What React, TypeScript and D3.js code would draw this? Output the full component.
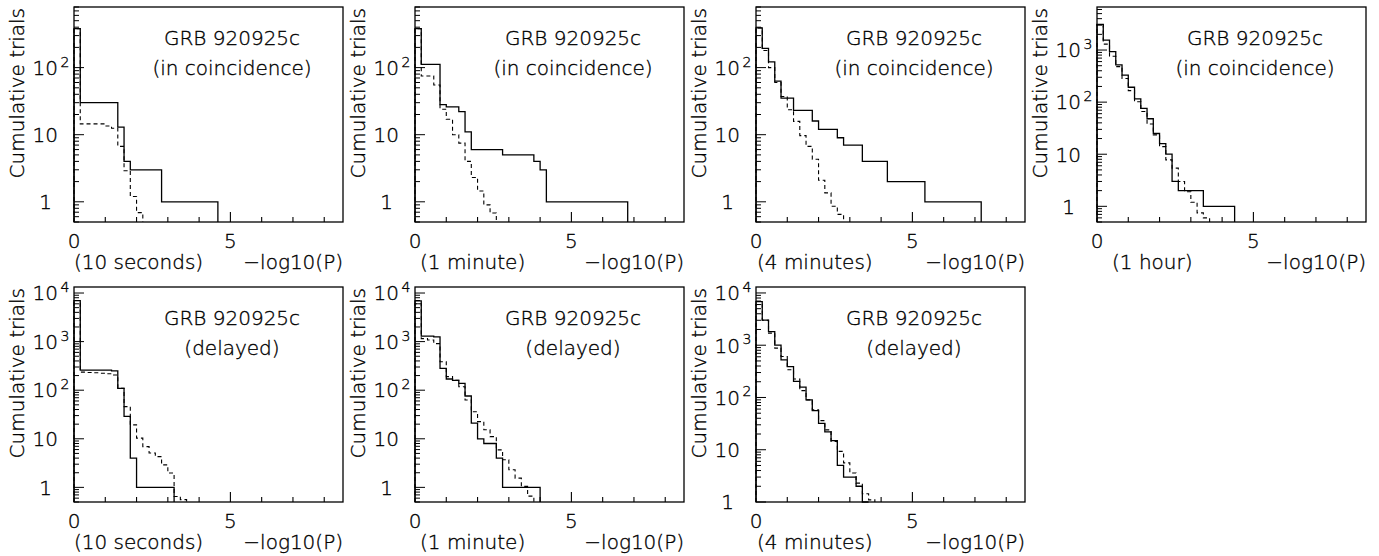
import React, { useEffect, useRef } from 'react';
import * as d3 from 'd3';

// bin width of the cumulative histograms, in -log10(P)
const BIN = 0.2;
const xDomain = [0, 8.6];
const xTicks = [1, 2, 3, 4, 5, 6, 7, 8];
const xLabels = [0, 5];

// in coincidence: observed (solid) and expected (dashed)
const coinc10sObs = [380, 30, 30, 30, 30, 30, 30, 13, 4, 3, 3, 3, 3, 3, 1, 1, 1, 1, 1, 1, 1, 1, 1];
const coinc10sExp = [380, 14.5, 14.5, 14.5, 14.5, 13.5, 12.5, 6.7, 2.9, 1.2, 0.69];
const coinc1mObs = [380, 112, 112, 112, 28, 26, 26, 22, 11, 6, 6, 6, 6, 6, 5, 5, 5, 5, 5, 4, 3,
    1, 1, 1, 1, 1, 1, 1, 1, 1, 1, 1, 1, 1];
const coinc1mExp = [380, 75, 75, 55, 24, 17, 10, 7.5, 4, 2.3, 1.45, 0.9, 0.68];
const coinc4mObs = [390, 194, 122, 63, 35, 35, 23, 23, 23, 16, 12, 12, 12, 9, 7, 7, 7, 4, 4, 4, 4,
    2, 2, 2, 2, 2, 2, 1, 1, 1, 1, 1, 1, 1, 1, 1];
const coinc4mExp = [390, 180, 100, 60, 37, 23.5, 15.8, 9.7, 6.7, 4.3, 2.1, 1.36, 0.86, 0.65];
const coinc1hObs = [3100, 1550, 930, 520, 330, 193, 115, 76, 48, 25, 16, 10, 3, 2, 2, 2, 2, 1, 1, 1, 1, 1];
const coinc1hExp = [3100, 1300, 760, 480, 285, 166, 102, 66, 38, 23.5, 14, 7.8, 5.4, 3.0, 1.9, 1.2, 0.75, 0.6];

// delayed
const del10sObs = [7000, 260, 260, 260, 260, 260, 250, 109, 29, 4, 1, 1, 1, 1, 1, 1];
const del10sExp = [7000, 235, 232, 228, 224, 218, 205, 110, 46, 19.3, 10.3, 6.9, 5.1, 4.3, 2.9, 1.97, 0.65, 0.56];
const del1mObs = [6900, 1300, 1300, 1250, 280, 170, 160, 138, 76, 21, 10, 8, 8, 4, 1, 1, 1, 1, 1, 1];
const del1mExp = [6000, 1150, 1080, 910, 385, 190, 160, 118, 63, 36, 22.6, 15.3, 11.1, 5.9, 3.7, 2.3, 1.55, 1.05, 0.66];
const del4mObs = [6800, 3030, 1820, 1000, 525, 390, 203, 158, 90, 56, 32, 22, 15, 5, 3, 3, 2, 1];
const del4mExp = [6000, 3000, 1700, 880, 610, 340, 225, 135, 90, 58, 36, 24, 14.4, 9.3, 5.6, 3.6, 2.3, 1.44, 1.1];

const source = 'GRB 920925c';
const windows = ['(10 seconds)', '(1 minute)', '(4 minutes)', '(1 hour)'];
const modes = ['(in coincidence)', '(delayed)'];
const yTitle = 'Cumulative trials';
const xTitle = '\u2212log10(P)';

const panels = [
    { obs: coinc10sObs, exp: coinc10sExp, mode: 0, win: 0, yDomain: [0.5, 800] },
    { obs: coinc1mObs, exp: coinc1mExp, mode: 0, win: 1, yDomain: [0.5, 800] },
    { obs: coinc4mObs, exp: coinc4mExp, mode: 0, win: 2, yDomain: [0.5, 800] },
    { obs: coinc1hObs, exp: coinc1hExp, mode: 0, win: 3, yDomain: [0.5, 6700] },
    { obs: del10sObs, exp: del10sExp, mode: 1, win: 0, yDomain: [0.5, 13300] },
    { obs: del1mObs, exp: del1mExp, mode: 1, win: 1, yDomain: [0.5, 13300] },
    { obs: del4mObs, exp: del4mExp, mode: 1, win: 2, yDomain: [1, 13000] },
];

const W = 1379;
const H = 556;
const PW = 269;
const PH = 215;
const FONT = "'DejaVu Sans', sans-serif";
// offset of the window label from the frame's left edge
const winOffset = [0, 5, 1, 15];

// thin, dark text like the old plotting package
const label = (sel: any, size = 20) => sel
    .style('font-family', FONT)
    .style('font-size', `${size}px`)
    .style('font-weight', 200)
    .attr('fill', '#000')
    .attr('stroke', '#000')
    .attr('stroke-width', 0.35);

export default function App() {
    const svgRef = useRef<SVGSVGElement>(null);

    useEffect(() => {
        const svg = d3.select(svgRef.current);
        svg.selectAll('*').remove();

        panels.forEach((p, i) => {
            const row = i < 4 ? 0 : 1;
            const col = i < 4 ? i : i - 4;
            const L = 74 + col * 341;
            const T = row === 0 ? 7 : 287;
            const R = L + PW;
            const B = T + PH;

            const x = d3.scaleLinear().domain(xDomain).range([L, R]);
            const y = d3.scaleLog().domain(p.yDomain).range([B, T]).clamp(true);
            const g = svg.append('g');

            // histograms
            const stepPts = (vals: number[]) => {
                const pts: [number, number][] = [[0, p.yDomain[0]]];
                vals.forEach((v, j) => {
                    pts.push([j * BIN, v]);
                    pts.push([(j + 1) * BIN, v]);
                });
                pts.push([vals.length * BIN, p.yDomain[0]]);
                return pts;
            };
            const line = d3.line<[number, number]>()
                .x(d => x(d[0]))
                .y(d => y(d[1]));

            g.append('path')
                .attr('d', line(stepPts(p.obs)))
                .attr('fill', 'none')
                .attr('stroke', '#000')
                .attr('stroke-width', 1.3);
            g.append('path')
                .attr('d', line(stepPts(p.exp)))
                .attr('fill', 'none')
                .attr('stroke', '#000')
                .attr('stroke-width', 1.1)
                .attr('stroke-dasharray', '4,3');

            // frame
            g.append('rect')
                .attr('x', L).attr('y', T)
                .attr('width', PW).attr('height', PH)
                .attr('fill', 'none')
                .attr('stroke', '#000')
                .attr('stroke-width', 1.3);

            // x ticks
            xTicks.forEach(t => {
                const len = t === 5 ? 10 : 5;
                g.append('line')
                    .attr('x1', x(t)).attr('x2', x(t))
                    .attr('y1', B).attr('y2', B - len)
                    .attr('stroke', '#000').attr('stroke-width', 1.1);
            });
            xLabels.forEach(t => {
                label(g.append('text')
                    .attr('x', x(t)).attr('y', B + 26)
                    .attr('text-anchor', 'middle'))
                    .text(t);
            });

            // y ticks (log)
            const [y0, y1] = p.yDomain;
            const kMin = Math.floor(Math.log10(y0));
            const kMax = Math.ceil(Math.log10(y1));
            for (let k = kMin; k <= kMax; k++) {
                for (let m = 1; m <= 9; m++) {
                    const v = m * Math.pow(10, k);
                    if (v < y0 || v > y1) continue;
                    const len = m === 1 ? 10 : 5;
                    g.append('line')
                        .attr('x1', L).attr('x2', L + len)
                        .attr('y1', y(v)).attr('y2', y(v))
                        .attr('stroke', '#000').attr('stroke-width', 1);
                }
                const v = Math.pow(10, k);
                if (v < y0 || v > y1) continue;
                const ty = y(v);
                if (k === 0) {
                    label(g.append('text')
                        .attr('x', L - 22).attr('y', ty + 7.3)
                        .attr('text-anchor', 'end'))
                        .text('1');
                } else {
                    label(g.append('text')
                        .attr('x', L - 16).attr('y', ty + 7.3)
                        .attr('text-anchor', 'end'))
                        .text('10');
                    if (k > 1) {
                        label(g.append('text')
                            .attr('x', L - 13.5).attr('y', ty - 1)
                            .attr('text-anchor', 'start'), 14)
                            .text(k);
                    }
                }
            }

            // axis titles
            label(g.append('text')
                .attr('transform', `translate(${L - 50}, ${T + 1}) rotate(-90)`)
                .attr('text-anchor', 'end'))
                .text(yTitle);
            label(g.append('text')
                .attr('x', L + winOffset[p.win]).attr('y', B + 47)
                .attr('text-anchor', 'start'))
                .text(windows[p.win]);
            label(g.append('text')
                .attr('x', R).attr('y', B + 47)
                .attr('text-anchor', 'end'))
                .text(xTitle);

            // panel caption
            label(g.append('text')
                .attr('x', L + 158).attr('y', T + 38)
                .attr('text-anchor', 'middle'))
                .text(source);
            label(g.append('text')
                .attr('x', L + 158).attr('y', T + 67.5)
                .attr('text-anchor', 'middle'))
                .text(modes[p.mode]);
        });
    }, []);

    return (
        <svg
            ref={svgRef}
            width={W}
            height={H}
            style={{ position: 'absolute', left: 0, top: 0, background: '#fff' }}
        />
    );
}
